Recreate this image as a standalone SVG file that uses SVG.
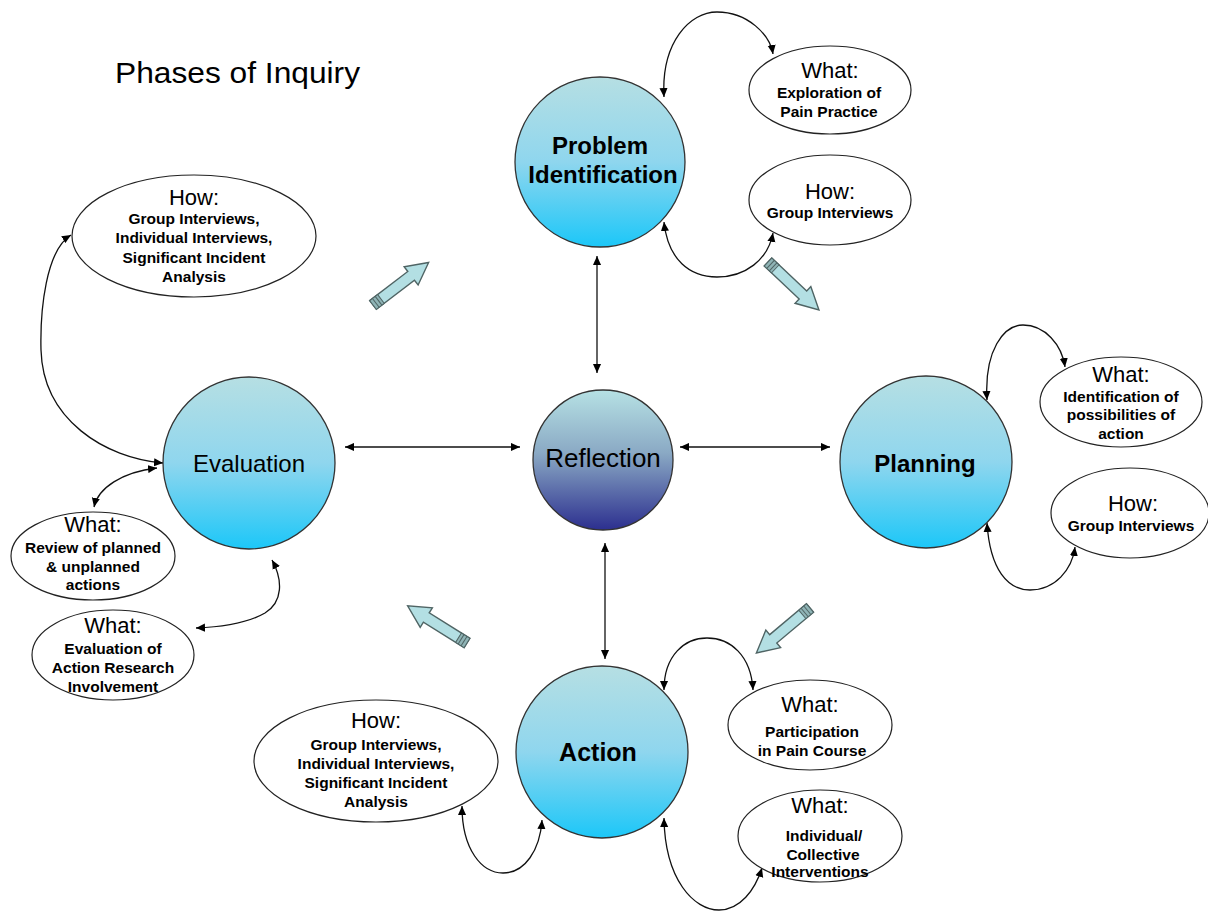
<svg xmlns="http://www.w3.org/2000/svg" width="1208" height="912" viewBox="0 0 1208 912">
<style>
text{font-family:"Liberation Sans",Arial,sans-serif;fill:#000;text-anchor:middle}
.title{font-size:29px;text-anchor:start}
.lbl{font-size:24px}
.lblb{font-size:24px;font-weight:bold}
.hd{font-size:22px}
.bd{font-size:15.5px;font-weight:bold}
.circ{stroke:#333;stroke-width:1.3}
.ell{fill:#fff;stroke:#222;stroke-width:1.2}
.conn{fill:none;stroke:#111;stroke-width:1.3;marker-start:url(#ah);marker-end:url(#ah)}
.blk{fill:#b3dfe3;stroke:#4f6464;stroke-width:1.4;stroke-linejoin:miter}
.band{fill:#8fb4b6;stroke:#4f6464;stroke-width:1}
</style>
<defs>
<linearGradient id="gc" x1="0" y1="0" x2="0" y2="1">
<stop offset="0" stop-color="#b6dfe3"/>
<stop offset="0.5" stop-color="#8fd6ee"/>
<stop offset="1" stop-color="#1cc7f8"/>
</linearGradient>
<linearGradient id="gr" x1="0" y1="0" x2="0" y2="1">
<stop offset="0" stop-color="#b6e1e4"/>
<stop offset="0.45" stop-color="#8aa9c4"/>
<stop offset="1" stop-color="#2c2f8f"/>
</linearGradient>
<marker id="ah" viewBox="0 0 10 10" refX="10" refY="5" markerWidth="9" markerHeight="9" markerUnits="userSpaceOnUse" orient="auto-start-reverse">
<path d="M0,0.5 L10,5 L0,9.5 z" fill="#000"/>
</marker>
<g id="blockArrow">
<path class="blk" d="M0,-5.5 L48,-5.5 L48,-11.5 L70,0 L48,11.5 L48,5.5 L0,5.5 Z"/>
<rect class="band" x="0" y="-5.5" width="10" height="11"/>
<line x1="3.5" y1="-5.5" x2="3.5" y2="5.5" stroke="#4f6464" stroke-width="1"/>
<line x1="7" y1="-5.5" x2="7" y2="5.5" stroke="#4f6464" stroke-width="1"/>
</g>
</defs>
<rect width="1208" height="912" fill="#fff"/>
<text class="title" x="115" y="83" textLength="245" lengthAdjust="spacingAndGlyphs">Phases of Inquiry</text>

<g id="connectors">
<line class="conn" x1="597" y1="256" x2="597" y2="373"/>
<line class="conn" x1="605" y1="543" x2="605" y2="659"/>
<line class="conn" x1="345" y1="447" x2="520" y2="447"/>
<line class="conn" x1="680" y1="447" x2="830" y2="447"/>
<path class="conn" d="M664,97 C661,42 690,12 717,12 C748,12 770,35 773,54"/>
<path class="conn" d="M664,222 C668,260 690,277 717,277 C745,277 768,260 773,233"/>
<path class="conn" d="M71,235 C46,250 40,310 41,350 C43,420 105,458 163,463"/>
<path class="conn" d="M157,468 C122,472 98,488 94,507"/>
<path class="conn" d="M272,560 C283,580 283,602 265,613 C246,624 222,627 196,628"/>
<path class="conn" d="M987,400 C984,350 1004,325 1023,325 C1045,325 1062,345 1065,367"/>
<path class="conn" d="M987,523 C990,570 1008,590 1030,590 C1055,590 1072,570 1075,547"/>
<path class="conn" d="M664,690 C664,655 685,638 707,638 C730,638 751,655 753,690"/>
<path class="conn" d="M664,818 C665,880 694,910 719,910 C740,910 755,890 762,868"/>
<path class="conn" d="M462,806 C462,850 482,873 503,873 C525,873 540,850 542,820"/>
</g>

<g id="block-arrows">
<use href="#blockArrow" transform="translate(373,305) rotate(-37.4)"/>
<use href="#blockArrow" transform="translate(768,262) rotate(43.3)"/>
<use href="#blockArrow" transform="translate(810,608) rotate(140)"/>
<use href="#blockArrow" transform="translate(467,643) rotate(212)"/>
</g>

<g id="node-problem">
<circle class="circ" cx="600" cy="162" r="85" fill="url(#gc)"/>
<text class="lblb" x="600" y="154">Problem</text>
<text class="lblb" x="603" y="183">Identification</text>
</g>
<g id="node-reflection">
<circle class="circ" cx="603" cy="460" r="70" fill="url(#gr)"/>
<text class="lbl" x="603" y="467" style="font-size:26px">Reflection</text>
</g>
<g id="node-evaluation">
<circle class="circ" cx="249" cy="463" r="86" fill="url(#gc)"/>
<text class="lbl" x="249" y="472">Evaluation</text>
</g>
<g id="node-planning">
<circle class="circ" cx="926" cy="462" r="86" fill="url(#gc)"/>
<text class="lblb" x="925" y="472">Planning</text>
</g>
<g id="node-action">
<circle class="circ" cx="602" cy="752" r="86" fill="url(#gc)"/>
<text class="lblb" x="598" y="761" style="font-size:25px">Action</text>
</g>

<g id="node-what-exploration">
<ellipse class="ell" cx="830" cy="90" rx="81" ry="44"/>
<text class="hd" x="830" y="78">What:</text>
<text class="bd" x="829" y="98">Exploration of</text>
<text class="bd" x="829" y="117">Pain Practice</text>
</g>
<g id="node-how-problem">
<ellipse class="ell" cx="830" cy="200" rx="81" ry="45"/>
<text class="hd" x="830" y="199">How:</text>
<text class="bd" x="830" y="218">Group Interviews</text>
</g>
<g id="node-how-evaluation">
<ellipse class="ell" cx="194" cy="236" rx="122" ry="61"/>
<text class="hd" x="194" y="205">How:</text>
<text class="bd" x="194" y="224">Group Interviews,</text>
<text class="bd" x="194" y="243">Individual Interviews,</text>
<text class="bd" x="194" y="263">Significant Incident</text>
<text class="bd" x="194" y="282">Analysis</text>
</g>
<g id="node-what-review">
<ellipse class="ell" cx="93" cy="556" rx="82" ry="44"/>
<text class="hd" x="93" y="532">What:</text>
<text class="bd" x="93" y="553">Review of planned</text>
<text class="bd" x="93" y="572">&amp; unplanned</text>
<text class="bd" x="93" y="590">actions</text>
</g>
<g id="node-what-evaluation-ar">
<ellipse class="ell" cx="113" cy="655" rx="81" ry="45"/>
<text class="hd" x="113" y="633">What:</text>
<text class="bd" x="113" y="654">Evaluation of</text>
<text class="bd" x="113" y="673">Action Research</text>
<text class="bd" x="113" y="692">Involvement</text>
</g>
<g id="node-what-identification">
<ellipse class="ell" cx="1121" cy="402" rx="81" ry="45"/>
<text class="hd" x="1121" y="382">What:</text>
<text class="bd" x="1121" y="402">Identification of</text>
<text class="bd" x="1121" y="420">possibilities of</text>
<text class="bd" x="1121" y="439">action</text>
</g>
<g id="node-how-planning">
<ellipse class="ell" cx="1130" cy="513" rx="79" ry="45"/>
<text class="hd" x="1133" y="511">How:</text>
<text class="bd" x="1131" y="531">Group Interviews</text>
</g>
<g id="node-what-participation">
<ellipse class="ell" cx="810" cy="725" rx="82" ry="45"/>
<text class="hd" x="810" y="712">What:</text>
<text class="bd" x="812" y="737">Participation</text>
<text class="bd" x="812" y="756">in Pain Course</text>
</g>
<g id="node-what-interventions">
<ellipse class="ell" cx="820" cy="836" rx="82" ry="46"/>
<text class="hd" x="820" y="813">What:</text>
<text class="bd" x="824" y="841">Individual/</text>
<text class="bd" x="823" y="860">Collective</text>
<text class="bd" x="820" y="877">Interventions</text>
</g>
<g id="node-how-action">
<ellipse class="ell" cx="376" cy="761" rx="122" ry="61"/>
<text class="hd" x="376" y="728">How:</text>
<text class="bd" x="376" y="750">Group Interviews,</text>
<text class="bd" x="376" y="769">Individual Interviews,</text>
<text class="bd" x="376" y="788">Significant Incident</text>
<text class="bd" x="376" y="807">Analysis</text>
</g>
</svg>
